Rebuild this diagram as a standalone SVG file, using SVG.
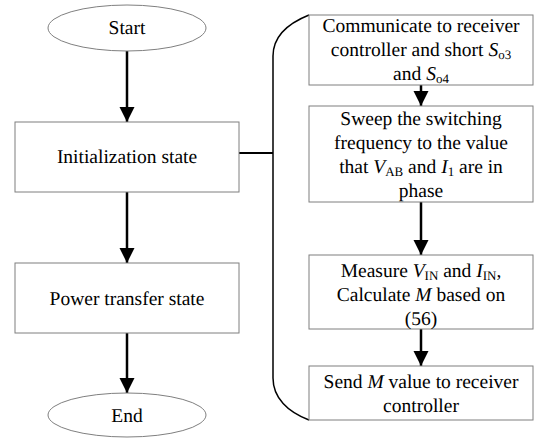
<svg xmlns="http://www.w3.org/2000/svg" width="535" height="438" viewBox="0 0 535 438" text-rendering="geometricPrecision">
  <style>
    .box { fill: #ffffff; stroke: #7f7f7f; stroke-width: 1; }
    .term { fill: #ffffff; stroke: #7f7f7f; stroke-width: 1; }
    text { font-family: 'Liberation Serif', 'Times New Roman', serif; font-size: 19.5px; fill: #000000; text-anchor: middle; }
    .it { font-style: italic; }
    .sub { font-size: 13px; }
    .flow { stroke: #000000; stroke-width: 2.5; fill: none; }
    .link { stroke: #000000; stroke-width: 2; fill: none; }
    .brace { stroke: #000000; stroke-width: 1.5; fill: none; }
  </style>
  <defs>
    <marker id="head" markerUnits="userSpaceOnUse" markerWidth="16" markerHeight="16" viewBox="0 0 16 16" refX="15" refY="8" orient="auto">
      <path d="M0,0.5 L15,8 L0,15.5 Z" fill="#000000"/>
    </marker>
  </defs>

  <rect width="535" height="438" fill="#ffffff"/>

  <!-- connectors -->
  <g id="connectors">
    <line class="flow" x1="127" y1="51" x2="127" y2="122" marker-end="url(#head)"/>
    <line class="flow" x1="127" y1="192" x2="127" y2="263" marker-end="url(#head)"/>
    <line class="flow" x1="127" y1="333" x2="127" y2="393" marker-end="url(#head)"/>
    <line class="flow" x1="421" y1="85" x2="421" y2="106" marker-end="url(#head)"/>
    <line class="flow" x1="421" y1="202" x2="421" y2="255" marker-end="url(#head)"/>
    <line class="flow" x1="421" y1="329" x2="421" y2="366" marker-end="url(#head)"/>
    <line class="link" x1="239" y1="153" x2="273" y2="153"/>
    <path class="brace" d="M309,15 C289,23 273,36 273,56 L273,378 C273,398 288,412 309,420"/>
  </g>

  <!-- left column -->
  <g id="start">
    <ellipse class="term" cx="127" cy="28" rx="79" ry="23"/>
    <text x="127" y="34">Start</text>
  </g>
  <g id="init">
    <rect class="box" x="15" y="122" width="224" height="70"/>
    <text x="127" y="163">Initialization state</text>
  </g>
  <g id="power">
    <rect class="box" x="15" y="263" width="224" height="70"/>
    <text x="127" y="305">Power transfer state</text>
  </g>
  <g id="end">
    <ellipse class="term" cx="127" cy="415" rx="79" ry="22"/>
    <text x="127" y="422">End</text>
  </g>

  <!-- right column -->
  <g id="communicate">
    <rect class="box" x="309" y="15" width="224" height="70"/>
    <text x="421" y="32">Communicate to receiver</text>
    <text x="421" y="56">controller and short <tspan class="it">S</tspan><tspan class="sub" dy="3">o3</tspan></text>
    <text x="421" y="80">and <tspan class="it">S</tspan><tspan class="sub" dy="3">o4</tspan></text>
  </g>
  <g id="sweep">
    <rect class="box" x="309" y="106" width="224" height="96"/>
    <text x="421" y="125">Sweep the switching</text>
    <text x="421" y="149">frequency to the value</text>
    <text x="421" y="173">that <tspan class="it">V</tspan><tspan class="sub" dy="3">AB</tspan><tspan dy="-3"> and </tspan><tspan class="it">I</tspan><tspan class="sub" dy="3">1</tspan><tspan dy="-3"> are in</tspan></text>
    <text x="421" y="197">phase</text>
  </g>
  <g id="measure">
    <rect class="box" x="309" y="255" width="224" height="74"/>
    <text x="421" y="277">Measure <tspan class="it">V</tspan><tspan class="sub" dy="3">IN</tspan><tspan dy="-3"> and </tspan><tspan class="it">I</tspan><tspan class="sub" dy="3">IN</tspan><tspan dy="-3">,</tspan></text>
    <text x="421" y="301">Calculate <tspan class="it">M</tspan> based on</text>
    <text x="421" y="325">(56)</text>
  </g>
  <g id="send">
    <rect class="box" x="309" y="366" width="224" height="54"/>
    <text x="421" y="388">Send <tspan class="it">M</tspan> value to receiver</text>
    <text x="421" y="412">controller</text>
  </g>
</svg>
